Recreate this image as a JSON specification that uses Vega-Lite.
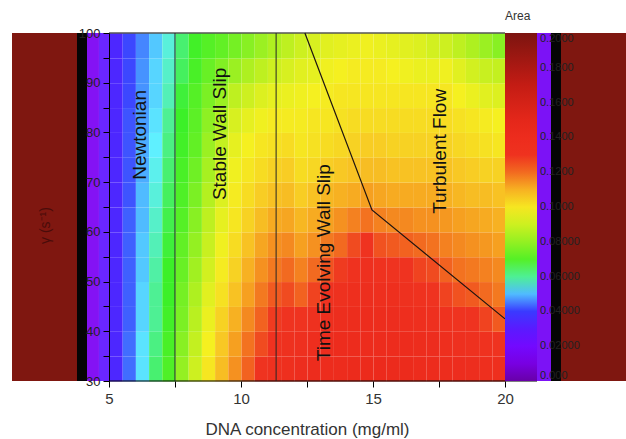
{
"$schema": "https://vega.github.io/schema/vega-lite/v6.json",
"width": 614, "height": 348,
"autosize": {"type": "none"},
"padding": {"left": 12, "top": 33, "right": 0, "bottom": 58},
"background": "white",
"config": {"view": {"stroke": null}, "font": "Liberation Sans"},
"datasets": {
"one": [{}],
"cells": [
{"x":5,"y":30,"a":0.034},{"x":5,"y":35,"a":0.034},{"x":5,"y":40,"a":0.034},{"x":5,"y":45,"a":0.034},{"x":5,"y":50,"a":0.034},{"x":5,"y":55,"a":0.034},{"x":5,"y":60,"a":0.034},{"x":5,"y":65,"a":0.034},{"x":5,"y":70,"a":0.034},{"x":5,"y":75,"a":0.034},{"x":5,"y":80,"a":0.034},{"x":5,"y":85,"a":0.034},{"x":5,"y":90,"a":0.034},{"x":5,"y":95,"a":0.034},
{"x":5.5,"y":30,"a":0.044},{"x":5.5,"y":35,"a":0.044},{"x":5.5,"y":40,"a":0.043},{"x":5.5,"y":45,"a":0.043},{"x":5.5,"y":50,"a":0.043},{"x":5.5,"y":55,"a":0.043},{"x":5.5,"y":60,"a":0.043},{"x":5.5,"y":65,"a":0.042},{"x":5.5,"y":70,"a":0.042},{"x":5.5,"y":75,"a":0.042},{"x":5.5,"y":80,"a":0.042},{"x":5.5,"y":85,"a":0.041},{"x":5.5,"y":90,"a":0.041},{"x":5.5,"y":95,"a":0.041},
{"x":6,"y":30,"a":0.053},{"x":6,"y":35,"a":0.053},{"x":6,"y":40,"a":0.052},{"x":6,"y":45,"a":0.052},{"x":6,"y":50,"a":0.051},{"x":6,"y":55,"a":0.051},{"x":6,"y":60,"a":0.05},{"x":6,"y":65,"a":0.05},{"x":6,"y":70,"a":0.049},{"x":6,"y":75,"a":0.049},{"x":6,"y":80,"a":0.048},{"x":6,"y":85,"a":0.047},{"x":6,"y":90,"a":0.047},{"x":6,"y":95,"a":0.046},
{"x":6.5,"y":30,"a":0.062},{"x":6.5,"y":35,"a":0.061},{"x":6.5,"y":40,"a":0.06},{"x":6.5,"y":45,"a":0.06},{"x":6.5,"y":50,"a":0.059},{"x":6.5,"y":55,"a":0.058},{"x":6.5,"y":60,"a":0.057},{"x":6.5,"y":65,"a":0.056},{"x":6.5,"y":70,"a":0.055},{"x":6.5,"y":75,"a":0.054},{"x":6.5,"y":80,"a":0.053},{"x":6.5,"y":85,"a":0.052},{"x":6.5,"y":90,"a":0.052},{"x":6.5,"y":95,"a":0.051},
{"x":7,"y":30,"a":0.069},{"x":7,"y":35,"a":0.068},{"x":7,"y":40,"a":0.067},{"x":7,"y":45,"a":0.066},{"x":7,"y":50,"a":0.066},{"x":7,"y":55,"a":0.065},{"x":7,"y":60,"a":0.064},{"x":7,"y":65,"a":0.063},{"x":7,"y":70,"a":0.062},{"x":7,"y":75,"a":0.061},{"x":7,"y":80,"a":0.06},{"x":7,"y":85,"a":0.058},{"x":7,"y":90,"a":0.057},{"x":7,"y":95,"a":0.056},
{"x":7.5,"y":30,"a":0.08},{"x":7.5,"y":35,"a":0.078},{"x":7.5,"y":40,"a":0.076},{"x":7.5,"y":45,"a":0.075},{"x":7.5,"y":50,"a":0.073},{"x":7.5,"y":55,"a":0.072},{"x":7.5,"y":60,"a":0.07},{"x":7.5,"y":65,"a":0.069},{"x":7.5,"y":70,"a":0.068},{"x":7.5,"y":75,"a":0.067},{"x":7.5,"y":80,"a":0.066},{"x":7.5,"y":85,"a":0.065},{"x":7.5,"y":90,"a":0.063},{"x":7.5,"y":95,"a":0.062},
{"x":8,"y":30,"a":0.09},{"x":8,"y":35,"a":0.088},{"x":8,"y":40,"a":0.086},{"x":8,"y":45,"a":0.084},{"x":8,"y":50,"a":0.082},{"x":8,"y":55,"a":0.08},{"x":8,"y":60,"a":0.078},{"x":8,"y":65,"a":0.076},{"x":8,"y":70,"a":0.074},{"x":8,"y":75,"a":0.072},{"x":8,"y":80,"a":0.071},{"x":8,"y":85,"a":0.07},{"x":8,"y":90,"a":0.068},{"x":8,"y":95,"a":0.067},
{"x":8.5,"y":30,"a":0.1},{"x":8.5,"y":35,"a":0.098},{"x":8.5,"y":40,"a":0.096},{"x":8.5,"y":45,"a":0.094},{"x":8.5,"y":50,"a":0.091},{"x":8.5,"y":55,"a":0.089},{"x":8.5,"y":60,"a":0.087},{"x":8.5,"y":65,"a":0.085},{"x":8.5,"y":70,"a":0.083},{"x":8.5,"y":75,"a":0.081},{"x":8.5,"y":80,"a":0.079},{"x":8.5,"y":85,"a":0.076},{"x":8.5,"y":90,"a":0.073},{"x":8.5,"y":95,"a":0.07},
{"x":9,"y":30,"a":0.108},{"x":9,"y":35,"a":0.106},{"x":9,"y":40,"a":0.104},{"x":9,"y":45,"a":0.101},{"x":9,"y":50,"a":0.099},{"x":9,"y":55,"a":0.097},{"x":9,"y":60,"a":0.095},{"x":9,"y":65,"a":0.093},{"x":9,"y":70,"a":0.091},{"x":9,"y":75,"a":0.088},{"x":9,"y":80,"a":0.085},{"x":9,"y":85,"a":0.081},{"x":9,"y":90,"a":0.077},{"x":9,"y":95,"a":0.072},
{"x":9.5,"y":30,"a":0.115},{"x":9.5,"y":35,"a":0.113},{"x":9.5,"y":40,"a":0.11},{"x":9.5,"y":45,"a":0.107},{"x":9.5,"y":50,"a":0.104},{"x":9.5,"y":55,"a":0.102},{"x":9.5,"y":60,"a":0.1},{"x":9.5,"y":65,"a":0.099},{"x":9.5,"y":70,"a":0.097},{"x":9.5,"y":75,"a":0.095},{"x":9.5,"y":80,"a":0.092},{"x":9.5,"y":85,"a":0.087},{"x":9.5,"y":90,"a":0.081},{"x":9.5,"y":95,"a":0.075},
{"x":10,"y":30,"a":0.121},{"x":10,"y":35,"a":0.119},{"x":10,"y":40,"a":0.116},{"x":10,"y":45,"a":0.113},{"x":10,"y":50,"a":0.11},{"x":10,"y":55,"a":0.107},{"x":10,"y":60,"a":0.104},{"x":10,"y":65,"a":0.102},{"x":10,"y":70,"a":0.1},{"x":10,"y":75,"a":0.098},{"x":10,"y":80,"a":0.095},{"x":10,"y":85,"a":0.09},{"x":10,"y":90,"a":0.084},{"x":10,"y":95,"a":0.078},
{"x":10.5,"y":30,"a":0.127},{"x":10.5,"y":35,"a":0.124},{"x":10.5,"y":40,"a":0.121},{"x":10.5,"y":45,"a":0.118},{"x":10.5,"y":50,"a":0.115},{"x":10.5,"y":55,"a":0.112},{"x":10.5,"y":60,"a":0.108},{"x":10.5,"y":65,"a":0.105},{"x":10.5,"y":70,"a":0.102},{"x":10.5,"y":75,"a":0.1},{"x":10.5,"y":80,"a":0.097},{"x":10.5,"y":85,"a":0.093},{"x":10.5,"y":90,"a":0.087},{"x":10.5,"y":95,"a":0.081},
{"x":11,"y":30,"a":0.132},{"x":11,"y":35,"a":0.129},{"x":11,"y":40,"a":0.126},{"x":11,"y":45,"a":0.122},{"x":11,"y":50,"a":0.118},{"x":11,"y":55,"a":0.115},{"x":11,"y":60,"a":0.111},{"x":11,"y":65,"a":0.107},{"x":11,"y":70,"a":0.104},{"x":11,"y":75,"a":0.101},{"x":11,"y":80,"a":0.099},{"x":11,"y":85,"a":0.095},{"x":11,"y":90,"a":0.09},{"x":11,"y":95,"a":0.084},
{"x":11.5,"y":30,"a":0.135},{"x":11.5,"y":35,"a":0.132},{"x":11.5,"y":40,"a":0.128},{"x":11.5,"y":45,"a":0.124},{"x":11.5,"y":50,"a":0.12},{"x":11.5,"y":55,"a":0.116},{"x":11.5,"y":60,"a":0.112},{"x":11.5,"y":65,"a":0.108},{"x":11.5,"y":70,"a":0.105},{"x":11.5,"y":75,"a":0.102},{"x":11.5,"y":80,"a":0.099},{"x":11.5,"y":85,"a":0.096},{"x":11.5,"y":90,"a":0.092},{"x":11.5,"y":95,"a":0.087},
{"x":12,"y":30,"a":0.138},{"x":12,"y":35,"a":0.133},{"x":12,"y":40,"a":0.127},{"x":12,"y":45,"a":0.121},{"x":12,"y":50,"a":0.117},{"x":12,"y":55,"a":0.113},{"x":12,"y":60,"a":0.109},{"x":12,"y":65,"a":0.105},{"x":12,"y":70,"a":0.102},{"x":12,"y":75,"a":0.1},{"x":12,"y":80,"a":0.099},{"x":12,"y":85,"a":0.097},{"x":12,"y":90,"a":0.094},{"x":12,"y":95,"a":0.09},
{"x":12.5,"y":30,"a":0.14},{"x":12.5,"y":35,"a":0.136},{"x":12.5,"y":40,"a":0.131},{"x":12.5,"y":45,"a":0.125},{"x":12.5,"y":50,"a":0.12},{"x":12.5,"y":55,"a":0.115},{"x":12.5,"y":60,"a":0.111},{"x":12.5,"y":65,"a":0.107},{"x":12.5,"y":70,"a":0.103},{"x":12.5,"y":75,"a":0.101},{"x":12.5,"y":80,"a":0.1},{"x":12.5,"y":85,"a":0.098},{"x":12.5,"y":90,"a":0.095},{"x":12.5,"y":95,"a":0.092},
{"x":13,"y":30,"a":0.141},{"x":13,"y":35,"a":0.138},{"x":13,"y":40,"a":0.134},{"x":13,"y":45,"a":0.129},{"x":13,"y":50,"a":0.123},{"x":13,"y":55,"a":0.118},{"x":13,"y":60,"a":0.113},{"x":13,"y":65,"a":0.109},{"x":13,"y":70,"a":0.105},{"x":13,"y":75,"a":0.102},{"x":13,"y":80,"a":0.1},{"x":13,"y":85,"a":0.099},{"x":13,"y":90,"a":0.097},{"x":13,"y":95,"a":0.094},
{"x":13.5,"y":30,"a":0.142},{"x":13.5,"y":35,"a":0.14},{"x":13.5,"y":40,"a":0.137},{"x":13.5,"y":45,"a":0.132},{"x":13.5,"y":50,"a":0.126},{"x":13.5,"y":55,"a":0.12},{"x":13.5,"y":60,"a":0.115},{"x":13.5,"y":65,"a":0.11},{"x":13.5,"y":70,"a":0.106},{"x":13.5,"y":75,"a":0.103},{"x":13.5,"y":80,"a":0.101},{"x":13.5,"y":85,"a":0.1},{"x":13.5,"y":90,"a":0.098},{"x":13.5,"y":95,"a":0.095},
{"x":14,"y":30,"a":0.143},{"x":14,"y":35,"a":0.141},{"x":14,"y":40,"a":0.139},{"x":14,"y":45,"a":0.135},{"x":14,"y":50,"a":0.13},{"x":14,"y":55,"a":0.124},{"x":14,"y":60,"a":0.117},{"x":14,"y":65,"a":0.111},{"x":14,"y":70,"a":0.107},{"x":14,"y":75,"a":0.104},{"x":14,"y":80,"a":0.102},{"x":14,"y":85,"a":0.1},{"x":14,"y":90,"a":0.099},{"x":14,"y":95,"a":0.096},
{"x":14.5,"y":30,"a":0.144},{"x":14.5,"y":35,"a":0.142},{"x":14.5,"y":40,"a":0.14},{"x":14.5,"y":45,"a":0.137},{"x":14.5,"y":50,"a":0.133},{"x":14.5,"y":55,"a":0.127},{"x":14.5,"y":60,"a":0.119},{"x":14.5,"y":65,"a":0.113},{"x":14.5,"y":70,"a":0.108},{"x":14.5,"y":75,"a":0.105},{"x":14.5,"y":80,"a":0.102},{"x":14.5,"y":85,"a":0.1},{"x":14.5,"y":90,"a":0.099},{"x":14.5,"y":95,"a":0.097},
{"x":15,"y":30,"a":0.145},{"x":15,"y":35,"a":0.142},{"x":15,"y":40,"a":0.139},{"x":15,"y":45,"a":0.135},{"x":15,"y":50,"a":0.13},{"x":15,"y":55,"a":0.123},{"x":15,"y":60,"a":0.117},{"x":15,"y":65,"a":0.112},{"x":15,"y":70,"a":0.108},{"x":15,"y":75,"a":0.105},{"x":15,"y":80,"a":0.102},{"x":15,"y":85,"a":0.1},{"x":15,"y":90,"a":0.099},{"x":15,"y":95,"a":0.096},
{"x":15.5,"y":30,"a":0.144},{"x":15.5,"y":35,"a":0.141},{"x":15.5,"y":40,"a":0.138},{"x":15.5,"y":45,"a":0.134},{"x":15.5,"y":50,"a":0.128},{"x":15.5,"y":55,"a":0.122},{"x":15.5,"y":60,"a":0.116},{"x":15.5,"y":65,"a":0.111},{"x":15.5,"y":70,"a":0.107},{"x":15.5,"y":75,"a":0.104},{"x":15.5,"y":80,"a":0.102},{"x":15.5,"y":85,"a":0.1},{"x":15.5,"y":90,"a":0.098},{"x":15.5,"y":95,"a":0.095},
{"x":16,"y":30,"a":0.143},{"x":16,"y":35,"a":0.14},{"x":16,"y":40,"a":0.136},{"x":16,"y":45,"a":0.132},{"x":16,"y":50,"a":0.127},{"x":16,"y":55,"a":0.121},{"x":16,"y":60,"a":0.116},{"x":16,"y":65,"a":0.111},{"x":16,"y":70,"a":0.107},{"x":16,"y":75,"a":0.104},{"x":16,"y":80,"a":0.102},{"x":16,"y":85,"a":0.1},{"x":16,"y":90,"a":0.097},{"x":16,"y":95,"a":0.094},
{"x":16.5,"y":30,"a":0.142},{"x":16.5,"y":35,"a":0.139},{"x":16.5,"y":40,"a":0.135},{"x":16.5,"y":45,"a":0.13},{"x":16.5,"y":50,"a":0.125},{"x":16.5,"y":55,"a":0.12},{"x":16.5,"y":60,"a":0.115},{"x":16.5,"y":65,"a":0.111},{"x":16.5,"y":70,"a":0.107},{"x":16.5,"y":75,"a":0.104},{"x":16.5,"y":80,"a":0.102},{"x":16.5,"y":85,"a":0.1},{"x":16.5,"y":90,"a":0.096},{"x":16.5,"y":95,"a":0.093},
{"x":17,"y":30,"a":0.141},{"x":17,"y":35,"a":0.138},{"x":17,"y":40,"a":0.133},{"x":17,"y":45,"a":0.128},{"x":17,"y":50,"a":0.124},{"x":17,"y":55,"a":0.119},{"x":17,"y":60,"a":0.115},{"x":17,"y":65,"a":0.111},{"x":17,"y":70,"a":0.107},{"x":17,"y":75,"a":0.104},{"x":17,"y":80,"a":0.102},{"x":17,"y":85,"a":0.1},{"x":17,"y":90,"a":0.096},{"x":17,"y":95,"a":0.091},
{"x":17.5,"y":30,"a":0.139},{"x":17.5,"y":35,"a":0.135},{"x":17.5,"y":40,"a":0.13},{"x":17.5,"y":45,"a":0.125},{"x":17.5,"y":50,"a":0.121},{"x":17.5,"y":55,"a":0.117},{"x":17.5,"y":60,"a":0.114},{"x":17.5,"y":65,"a":0.11},{"x":17.5,"y":70,"a":0.107},{"x":17.5,"y":75,"a":0.104},{"x":17.5,"y":80,"a":0.102},{"x":17.5,"y":85,"a":0.1},{"x":17.5,"y":90,"a":0.097},{"x":17.5,"y":95,"a":0.09},
{"x":18,"y":30,"a":0.138},{"x":18,"y":35,"a":0.133},{"x":18,"y":40,"a":0.128},{"x":18,"y":45,"a":0.123},{"x":18,"y":50,"a":0.119},{"x":18,"y":55,"a":0.116},{"x":18,"y":60,"a":0.113},{"x":18,"y":65,"a":0.109},{"x":18,"y":70,"a":0.106},{"x":18,"y":75,"a":0.103},{"x":18,"y":80,"a":0.101},{"x":18,"y":85,"a":0.098},{"x":18,"y":90,"a":0.094},{"x":18,"y":95,"a":0.087},
{"x":18.5,"y":30,"a":0.137},{"x":18.5,"y":35,"a":0.132},{"x":18.5,"y":40,"a":0.127},{"x":18.5,"y":45,"a":0.122},{"x":18.5,"y":50,"a":0.118},{"x":18.5,"y":55,"a":0.115},{"x":18.5,"y":60,"a":0.112},{"x":18.5,"y":65,"a":0.108},{"x":18.5,"y":70,"a":0.105},{"x":18.5,"y":75,"a":0.102},{"x":18.5,"y":80,"a":0.1},{"x":18.5,"y":85,"a":0.096},{"x":18.5,"y":90,"a":0.091},{"x":18.5,"y":95,"a":0.084},
{"x":19,"y":30,"a":0.135},{"x":19,"y":35,"a":0.13},{"x":19,"y":40,"a":0.125},{"x":19,"y":45,"a":0.12},{"x":19,"y":50,"a":0.117},{"x":19,"y":55,"a":0.114},{"x":19,"y":60,"a":0.111},{"x":19,"y":65,"a":0.108},{"x":19,"y":70,"a":0.104},{"x":19,"y":75,"a":0.101},{"x":19,"y":80,"a":0.099},{"x":19,"y":85,"a":0.094},{"x":19,"y":90,"a":0.089},{"x":19,"y":95,"a":0.081},
{"x":19.5,"y":30,"a":0.134},{"x":19.5,"y":35,"a":0.128},{"x":19.5,"y":40,"a":0.122},{"x":19.5,"y":45,"a":0.118},{"x":19.5,"y":50,"a":0.116},{"x":19.5,"y":55,"a":0.113},{"x":19.5,"y":60,"a":0.11},{"x":19.5,"y":65,"a":0.107},{"x":19.5,"y":70,"a":0.104},{"x":19.5,"y":75,"a":0.1},{"x":19.5,"y":80,"a":0.098},{"x":19.5,"y":85,"a":0.093},{"x":19.5,"y":90,"a":0.088},{"x":19.5,"y":95,"a":0.078}
],
"bounds": [{"x":7.5},{"x":11.33}],
"phase": [{"x":12.42,"y":100},{"x":14.96,"y":64.4},{"x":20,"y":42.5}],
"labels": [
{"x":6.17,"y":79.5,"label":"Newtonian"},
{"x":9.2,"y":79.7,"label":"Stable Wall Slip"},
{"x":13.14,"y":53.8,"label":"Time Evolving Wall Slip"},
{"x":17.54,"y":76.2,"label":"Turbulent Flow"}
]
},
"layer": [
{"data": {"name":"one"},
 "mark": {"type":"rect","color":"#7f1710"},
 "encoding": {"x":{"datum":1.326,"type":"quantitative","scale":{"domain":[1.326,24.583],"nice":false,"zero":false}},"x2":{"datum":3.788},
 "y":{"datum":30,"type":"quantitative","scale":{"domain":[30,100],"nice":false,"zero":false}},"y2":{"datum":100}}},
{"data": {"name":"one"},
 "mark": {"type":"rect","color":"#050505"},
 "encoding": {"x":{"datum":3.788,"type":"quantitative","scale":{"domain":[1.326,24.583],"nice":false,"zero":false}},"x2":{"datum":4.167},
 "y":{"datum":30,"type":"quantitative","scale":{"domain":[30,100],"nice":false,"zero":false}},"y2":{"datum":100}}},
{"data": {"name":"one"},
 "mark": {"type":"rect","color":"#8412f4"},
 "encoding": {"x":{"datum":4.167,"type":"quantitative","scale":{"domain":[1.326,24.583],"nice":false,"zero":false}},"x2":{"datum":4.62},
 "y":{"datum":30,"type":"quantitative","scale":{"domain":[30,100],"nice":false,"zero":false}},"y2":{"datum":100}}},
{"data": {"name":"one"},
 "mark": {"type":"rect","color":"#6a26ff"},
 "encoding": {"x":{"datum":4.62,"type":"quantitative","scale":{"domain":[1.326,24.583],"nice":false,"zero":false}},"x2":{"datum":5},
 "y":{"datum":30,"type":"quantitative","scale":{"domain":[30,100],"nice":false,"zero":false}},"y2":{"datum":100}}},
{"data": {"name":"cells"},
 "mark": {"type":"rect"},
 "encoding": {
  "x": {"field":"x","type":"quantitative","bin":{"binned":true,"step":0.5},
   "scale":{"domain":[1.326,24.583],"nice":false,"zero":false},
   "axis":{"values":[5,7.5,10,12.5,15,17.5,20],"labelExpr":"datum.value % 5 === 0 ? '' + datum.value : ''","domain":false,"grid":false,"tickSize":6,"tickColor":"#000","labelFontSize":15,"labelColor":"#333","labelPadding":4,"title":"DNA concentration (mg/ml)","titleFontSize":17,"titleFontWeight":"normal","titleColor":"#333","titleX":295,"titleY":53,"titleBaseline":"alphabetic","titleAlign":"center","zindex":1}},
  "y": {"field":"y","type":"quantitative","bin":{"binned":true,"step":5},
   "scale":{"domain":[30,100],"nice":false,"zero":false},
   "axis":{"values":[30,35,40,45,50,55,60,65,70,75,80,85,90,95,100],"labelExpr":"datum.value % 10 === 0 ? '' + datum.value : ''","offset":-97,"grid":false,"domainColor":"#000","tickColor":"#000","tickSize":6,"labelFontSize":13,"labelColor":"#222","labelPadding":3,"title":"γ (s⁻¹)","titleFontSize":14,"titleFontWeight":"normal","titleColor":"#4a0c0a","titleX":-64,"titleY":192,"titleAngle":270,"titleAlign":"center","titleBaseline":"middle","zindex":1}},
  "color": {"field":"a","type":"quantitative",
   "scale":{"type":"linear","domain":[0,0.015,0.03,0.04,0.048,0.054,0.066,0.085,0.098,0.106,0.113,0.12,0.127,0.145,0.17,0.2],"range":["#6800a8","#8000ff","#5a1aff","#3a3aff","#48a0ff","#5ff0ff","#3cf028","#b4f020","#f5f020","#f8c824","#f6a020","#f26a20","#ef3320","#ec2a1c","#c41c14","#7c1410"],"interpolate":"rgb"},
   "legend":{"type":"gradient","orient":"none","legendX":493,"legendY":-22,"direction":"vertical","gradientLength":348,"gradientThickness":32,"gradientStrokeWidth":0,"title":"Area","titleFontSize":12,"titleFontWeight":"normal","titleColor":"#333","titlePadding":10,"values":[0,0.02,0.04,0.06,0.08,0.1,0.12,0.14,0.16,0.18,0.2],"labelExpr":"datum.value === 0 ? '0.000' : (datum.value >= 0.099 ? format(datum.value, '.4f') : format(datum.value, '.5f'))","labelFontSize":11,"labelColor":"#222","labelOffset":3,"labelOverlap":false,"padding":0}}
 }},
{"data": {"name":"one"},
 "mark": {"type":"rect","color":"#7c12f6"},
 "encoding": {"x":{"datum":21.212,"type":"quantitative","scale":{"domain":[1.326,24.583],"nice":false,"zero":false}},"x2":{"datum":21.742},
 "y":{"datum":30,"type":"quantitative","scale":{"domain":[30,100],"nice":false,"zero":false}},"y2":{"datum":100}}},
{"data": {"name":"one"},
 "mark": {"type":"rect","color":"#050505"},
 "encoding": {"x":{"datum":21.742,"type":"quantitative","scale":{"domain":[1.326,24.583],"nice":false,"zero":false}},"x2":{"datum":22.121},
 "y":{"datum":30,"type":"quantitative","scale":{"domain":[30,100],"nice":false,"zero":false}},"y2":{"datum":100}}},
{"data": {"name":"one"},
 "mark": {"type":"rect","color":"#7f1710"},
 "encoding": {"x":{"datum":22.121,"type":"quantitative","scale":{"domain":[1.326,24.583],"nice":false,"zero":false}},"x2":{"datum":24.583},
 "y":{"datum":30,"type":"quantitative","scale":{"domain":[30,100],"nice":false,"zero":false}},"y2":{"datum":100}}},
{"data": {"name":"one"},
 "mark": {"type":"rule","color":"#000","strokeWidth":1},
 "encoding": {"x":{"datum":5,"type":"quantitative","scale":{"domain":[1.326,24.583],"nice":false,"zero":false}},"x2":{"datum":20},
 "y":{"datum":100,"type":"quantitative","scale":{"domain":[30,100],"nice":false,"zero":false}}}},
{"data": {"name":"one"},
 "mark": {"type":"rule","color":"#000","strokeWidth":1},
 "encoding": {"x":{"datum":5,"type":"quantitative","scale":{"domain":[1.326,24.583],"nice":false,"zero":false}},"x2":{"datum":21.212},
 "y":{"datum":30,"type":"quantitative","scale":{"domain":[30,100],"nice":false,"zero":false}}}},
{"data": {"name":"bounds"},
 "mark": {"type":"rule","color":"#262626","strokeWidth":1},
 "encoding": {"x":{"field":"x","type":"quantitative","scale":{"domain":[1.326,24.583],"nice":false,"zero":false}},
 "y":{"datum":30,"type":"quantitative","scale":{"domain":[30,100],"nice":false,"zero":false}},"y2":{"datum":100}}},
{"data": {"name":"phase"},
 "mark": {"type":"line","color":"#1e1410","strokeWidth":1.2},
 "encoding": {"x":{"field":"x","type":"quantitative","scale":{"domain":[1.326,24.583],"nice":false,"zero":false}},
 "y":{"field":"y","type":"quantitative","scale":{"domain":[30,100],"nice":false,"zero":false}}}},
{"data": {"name":"labels"},
 "mark": {"type":"text","angle":270,"fontSize":19,"color":"#111","align":"center","baseline":"middle"},
 "encoding": {"x":{"field":"x","type":"quantitative","scale":{"domain":[1.326,24.583],"nice":false,"zero":false}},
 "y":{"field":"y","type":"quantitative","scale":{"domain":[30,100],"nice":false,"zero":false}},
 "text":{"field":"label","type":"nominal"}}}
]
}
